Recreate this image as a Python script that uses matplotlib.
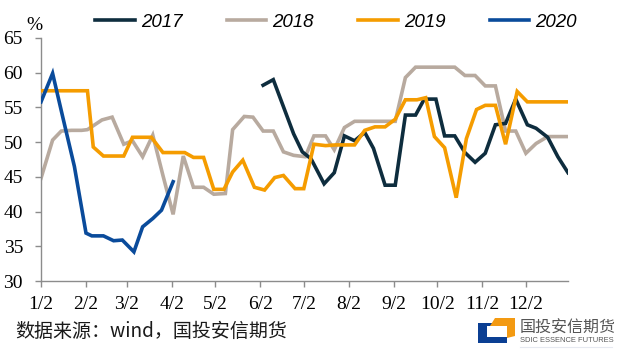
import numpy as np
import matplotlib
matplotlib.use("Agg")
import matplotlib.pyplot as plt
from matplotlib.patches import Rectangle, Polygon

# x values are day of year (1/2 = day 2), weekly readings
days_2017 = [155, 162, 169, 176, 182, 188, 197, 204, 211, 218, 225, 231, 239, 246,
             253, 260, 266, 274, 280, 287, 294, 301, 308, 315, 322, 329, 337, 343,
             351, 358, 365]
vals_2017 = [58.2, 59.0, 55.1, 51.2, 48.6, 47.6, 44.0, 45.6, 50.9, 50.2, 51.4, 49.1,
             43.8, 43.8, 53.9, 53.9, 56.2, 56.2, 50.9, 50.9, 48.5, 47.1, 48.4, 52.5,
             52.7, 56.2, 52.5, 52.0, 50.7, 47.9, 45.6]

days_2018 = [2, 10, 16, 23, 30, 34, 44, 51, 59, 65, 72, 79, 86, 93, 100, 107, 114,
             121, 129, 134, 142, 148, 155, 162, 169, 176, 184, 190, 198, 204, 211,
             218, 225, 232, 239, 246, 253, 260, 266, 273, 280, 287, 294, 301, 308,
             315, 322, 329, 336, 343, 351, 357, 365]
vals_2018 = [44.8, 50.3, 51.6, 51.7, 51.7, 51.8, 53.2, 53.6, 49.7, 50.2, 47.9, 51.0,
             45.2, 39.6, 48.0, 43.5, 43.5, 42.5, 42.6, 51.8, 53.7, 53.6, 51.6, 51.6,
             48.6, 48.1, 47.9, 50.9, 50.9, 48.9, 52.1, 53.0, 53.0, 53.0, 53.0, 53.0,
             59.3, 60.8, 60.8, 60.8, 60.8, 60.8, 59.6, 59.6, 58.1, 58.1, 51.6, 51.6,
             48.4, 49.8, 50.8, 50.8, 50.8]

days_2019 = [2, 10, 17, 23, 30, 34, 38, 45, 52, 59, 65, 72, 78, 86, 93, 101, 107,
             114, 121, 128, 134, 141, 149, 156, 163, 169, 177, 183, 190, 198, 205,
             211, 218, 225, 232, 239, 246, 253, 261, 267, 273, 280, 288, 295, 302,
             308, 315, 322, 330, 337, 344, 351, 357, 365]
vals_2019 = [57.4, 57.4, 57.4, 57.4, 57.4, 57.4, 49.3, 48.0, 48.0, 48.0, 50.7, 50.7,
             50.7, 48.5, 48.5, 48.5, 47.8, 47.8, 43.2, 43.2, 45.7, 47.4, 43.5, 43.1,
             44.9, 45.2, 43.3, 43.3, 49.7, 49.5, 49.6, 49.6, 49.6, 51.7, 52.2, 52.2,
             53.3, 56.1, 56.1, 56.4, 50.8, 49.2, 42.0, 50.5, 54.7, 55.3, 55.3, 49.7,
             57.3, 55.8, 55.8, 55.8, 55.8, 55.8]

days_2020 = [2, 10, 17, 25, 33, 37, 45, 52, 58, 66, 72, 79, 85, 93]
vals_2020 = [55.8, 59.9, 53.6, 46.5, 36.9, 36.5, 36.5, 35.8, 35.9, 34.2, 37.8, 39.0,
             40.2, 44.3]

tick_days = [2, 33, 61, 92, 122, 153, 183, 214, 245, 275, 306, 336]
tick_labels = ["1/2", "2/2", "3/2", "4/2", "5/2", "6/2", "7/2", "8/2", "9/2",
               "10/2", "11/2", "12/2"]

series = [
    ("2017", days_2017, vals_2017, "#0e2d3e", 3),
    ("2018", days_2018, vals_2018, "#b8aa9f", 2),
    ("2019", days_2019, vals_2019, "#f59c00", 4),
    ("2020", days_2020, vals_2020, "#0a4b9b", 5),
]

fig = plt.figure(figsize=(6.2, 3.55), dpi=100)
ax = fig.add_axes([41 / 620, 1 - 281 / 355, 527 / 620, 243 / 355])

lines = []
for name, d, v, c, z in series:
    ln, = ax.plot(d, v, color=c, lw=2.6, zorder=z, label=name,
                  solid_joinstyle="miter")
    lines.append(ln)

ax.set_xlim(2, 365)
ax.set_ylim(30, 65)
ax.set_yticks(np.arange(30, 66, 5))
ax.set_xticks(tick_days)
ax.set_xticklabels(tick_labels)

for s in ["top", "right"]:
    ax.spines[s].set_visible(False)
for s in ["left", "bottom"]:
    ax.spines[s].set_color("#8c8c8c")
    ax.spines[s].set_linewidth(1.0)
ax.tick_params(axis="both", direction="out", length=4, width=1.0, color="#8c8c8c",
               labelsize=14)
ax.tick_params(axis="x", pad=7)
ax.tick_params(axis="y", pad=9)
for lab in ax.get_xticklabels() + ax.get_yticklabels():
    lab.set_fontfamily("Liberation Serif")

fig.text(34 / 620, 1 - 25 / 355, "%", family="Liberation Serif", fontsize=14,
         ha="center", va="center")

fig.legend(handles=lines, loc="center", bbox_to_anchor=(336 / 620, 1 - 22 / 355),
           ncol=4, frameon=False, handlelength=2.13, handletextpad=0.32,
           columnspacing=2.35, borderpad=0,
           prop={"family": "Liberation Sans", "style": "italic", "size": 13.5})

fig.text(15 / 620, 1 - 331 / 355, "数据来源：wind，国投安信期货",
         family=["Noto Sans CJK SC", "DejaVu Sans"], fontsize=13.7,
         color="#1a1a1a", ha="left", va="center")

# logo, drawn in pixel coordinates
def fig_xy(x, y):
    return (x / 620, 1 - y / 355)

def px_rect(x0, y0, x1, y1, color):
    fig.patches.append(Rectangle(fig_xy(x0, y1), (x1 - x0) / 620, (y1 - y0) / 355,
                                 transform=fig.transFigure, facecolor=color,
                                 edgecolor="none"))

px_rect(478, 323, 507, 343, "#0b3f93")
px_rect(487, 326, 507, 337, "white")
orange = [(495, 318), (515, 318), (515, 336), (507, 338), (507, 326), (490, 326)]
fig.patches.append(Polygon([fig_xy(x, y) for x, y in orange], closed=True,
                           transform=fig.transFigure, facecolor="#f39a12",
                           edgecolor="none"))

fig.text(520 / 620, 1 - 328 / 355, "国投安信期货", family=["Noto Sans CJK SC", "DejaVu Sans"],
         fontsize=11.5, color="#555555", ha="left", va="center")
fig.text(520 / 620, 1 - 341 / 355, "SDIC ESSENCE FUTURES", family="Liberation Sans",
         fontsize=5.4, color="#555555", ha="left", va="center")
fig.lines.append(plt.Line2D([520 / 620, 612 / 620], [1 - 347 / 355, 1 - 347 / 355],
                            transform=fig.transFigure, color="#e6e9f0", lw=0.8))

fig.savefig("out.png", dpi=100)
